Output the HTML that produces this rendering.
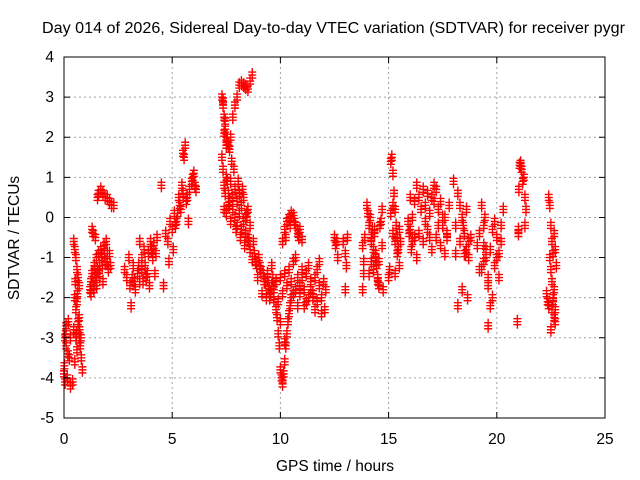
<!DOCTYPE html>
<html><head><meta charset="utf-8"><style>
html,body{margin:0;padding:0;background:#fff}
svg{display:block;font-family:"Liberation Sans",sans-serif}
</style></head><body>
<svg id="chart" width="640" height="480" viewBox="0 0 640 480" xmlns="http://www.w3.org/2000/svg">
<rect width="640" height="480" fill="#fff"/>
<text x="42" y="33" font-size="15.5" textLength="583" lengthAdjust="spacingAndGlyphs" fill="#000">Day 014 of 2026, Sidereal Day-to-day VTEC variation (SDTVAR) for receiver pygr</text>
<g id="grid"></g>
<g id="pts"></g>
<rect x="64" y="57" width="541" height="361" fill="none" stroke="#000" stroke-width="1"/>
<g id="axes"></g>
<text x="335" y="471" font-size="15.5" text-anchor="middle">GPS time / hours</text>
<text x="0" y="0" font-size="15.5" text-anchor="middle" transform="translate(19,238) rotate(-90)">SDTVAR / TECUs</text>
</svg>
<script>
const xTicks=[0,5,10,15,20,25];
const yTicks=[4,3,2,1,0,-1,-2,-3,-4,-5];
const times=[
0,0.05,0.05,0.1,0.1,0.15,0.2,0.25,0.3,0.3,0.02,0.08,0.18,
0.45,0.5,0.55,0.6,0.65,0.7,0.5,0.55,0.45,0.6,0.65,0.7,0.75,0.8,0.85,0.55,0.6,0.7,0.5,0.4,0.62,0.72,0.78,0.52,0.58,
1.2,1.25,1.3,1.35,1.4,1.45,1.5,1.55,1.6,1.65,1.7,1.75,1.8,1.85,1.9,1.95,2.0,2.05,1.3,1.35,1.45,1.55,1.6,1.7,1.8,1.9,2.0,2.1,2.2,2.3,1.25,1.5,1.42,1.62,1.78,1.88,1.98,2.1,2.15,1.38,1.52,
2.8,2.9,3.0,3.05,3.1,3.15,3.2,3.3,3.4,3.5,3.6,3.6,3.7,3.75,3.8,3.9,4.0,4.1,4.15,4.2,4.3,3.5,3.95,3.25,3.45,3.85,4.05,4.25,3.65,
4.7,4.8,4.9,5.0,5.05,5.1,5.2,5.3,5.4,5.45,5.5,5.55,5.6,5.65,5.75,5.8,5.9,6.0,6.05,6.1,4.6,4.85,4.5,5.35,5.5,5.25,5.7,5.95,5.15,
7.3,7.35,7.4,7.45,7.5,7.55,7.6,7.7,7.8,7.9,8.0,8.1,8.2,8.3,8.4,8.5,8.6,8.7,7.4,7.5,7.65,7.35,7.45,
7.3,7.35,7.4,7.5,7.6,7.7,7.8,7.9,8.0,8.1,8.2,8.3,8.4,8.5,8.6,7.4,7.5,7.6,7.7,7.8,7.9,8.0,8.1,8.2,8.3,8.4,8.5,7.45,7.65,7.85,8.05,8.25,8.45,7.55,7.75,7.95,8.15,8.35,8.55,
8.6,8.7,8.8,8.9,9.0,9.1,9.2,9.3,9.4,9.5,9.6,8.75,8.85,8.95,9.05,9.15,9.25,9.35,9.45,9.55,9.65,
9.7,9.8,9.85,9.9,9.95,10.0,10.05,10.1,10.15,10.2,10.25,10.3,10.35,10.4,10.45,9.9,10.0,10.1,10.2,
10.1,10.2,10.3,10.4,10.5,10.6,10.7,10.8,10.9,11.0,10.25,10.45,10.65,10.85,
9.4,9.6,9.8,10.0,10.2,10.4,10.6,10.8,11.0,11.2,11.4,11.6,11.8,12.0,12.1,9.5,9.7,9.9,10.1,10.3,10.5,10.7,10.9,11.1,11.3,11.5,11.7,11.9,12.05,10.5,10.7,10.9,11.1,11.3,11.5,11.7,11.9,10.6,10.8,11.0,11.2,11.4,11.6,11.8,
12.5,12.55,12.6,12.65,12.9,13.0,13.05,13.1,13.0,13.8,13.85,13.85,13.9,13.8,
14.0,14.05,14.1,14.15,14.2,14.25,14.3,14.35,14.4,14.45,14.5,14.55,14.6,14.65,14.7,14.75,14.1,14.2,14.3,14.4,14.5,14.6,14.7,14.2,14.35,14.55,
15.0,15.05,15.1,15.15,15.2,15.25,15.3,15.35,15.4,15.45,15.5,15.55,15.1,15.2,15.3,15.4,15.5,15.2,15.3,
15.9,16.0,16.1,16.2,16.3,16.4,16.5,16.6,16.7,16.8,16.9,17.0,17.1,17.2,17.3,17.4,17.5,17.6,17.7,17.8,16.0,16.2,16.4,16.6,16.8,17.0,17.2,17.4,17.6,16.1,16.3,16.5,16.7,16.9,17.1,17.3,17.5,17.7,15.95,16.05,
18.0,18.1,18.2,18.3,18.4,18.5,18.6,18.7,18.8,18.1,18.3,18.5,18.7,18.45,18.55,18.65,18.2,18.4,18.6,
19.1,19.2,19.3,19.4,19.5,19.6,19.7,19.8,19.9,20.0,20.1,20.2,20.3,19.2,19.4,19.6,19.8,20.0,20.2,19.3,19.5,19.7,19.9,20.1,19.4,19.45,19.6,
20.95,21.0,21.05,21.1,21.15,21.2,21.25,21.3,21.35,21.1,21.2,21.3,21.0,21.02,
22.3,22.35,22.4,22.45,22.5,22.55,22.6,22.65,22.7,22.75,22.45,22.5,22.55,22.6,22.65,22.7,22.6,22.65,22.5,22.7,22.4,22.55
];
const values=[
-3.9,-4.1,-3.0,-2.7,-3.2,-4.0,-2.6,-3.5,-4.2,-3.0,-3.7,-2.9,-3.4,
-0.6,-0.8,-1.0,-1.3,-1.5,-1.7,-2.0,-2.3,-2.8,-2.1,-2.6,-3.0,-3.2,-3.5,-3.8,-3.0,-3.3,-2.5,-3.6,-4.1,-1.9,-2.8,-3.0,-1.6,-2.9,
-1.8,-1.6,-1.4,-1.7,-1.2,-1.5,-1.0,-1.3,-0.9,-1.2,-0.8,-1.0,-1.6,-0.7,-1.1,-0.6,-0.9,-1.3,-0.3,-0.4,-0.5,0.5,0.6,0.7,0.6,0.5,0.5,0.4,0.3,0.3,-1.9,-1.7,-1.3,-1.4,-1.2,-0.9,-1.1,-0.9,-1.2,-1.8,-1.5,
-1.3,-1.5,-1.0,-1.7,-2.2,-1.5,-1.2,-1.8,-1.4,-1.6,-1.3,-1.0,-0.8,-1.2,-1.5,-0.9,-0.6,-1.0,-0.7,-1.4,-0.5,-0.6,-1.7,-1.6,-1.2,-1.4,-0.8,-0.9,-1.6,
-0.4,-0.6,-0.1,-0.3,-0.8,0.1,-0.1,0.5,0.2,0.8,0.6,1.5,1.8,0.4,-0.1,0.7,0.9,1.1,0.8,0.7,-1.7,-1.1,0.8,0.3,1.6,0.1,0.5,1.0,-0.2,
3.0,2.8,2.5,2.2,2.0,1.9,1.8,2.0,2.5,2.8,3.0,3.3,3.35,3.3,3.25,3.2,3.4,3.55,2.1,1.8,1.7,2.9,2.4,
1.5,1.2,0.8,1.0,0.6,0.9,0.5,0.7,0.4,0.6,0.3,0.5,0.0,0.2,-0.2,0.2,0.1,0.3,-0.1,0.2,0.0,-0.2,0.1,-0.3,-0.1,-0.4,-0.5,0.6,0.4,1.2,0.9,0.7,0.1,0.9,1.4,-0.3,-0.5,-0.7,-0.6,
-0.8,-1.05,-0.9,-1.2,-1.0,-1.3,-1.4,-1.6,-1.5,-1.8,-1.7,-0.6,-1.1,-1.5,-1.2,-1.9,-1.6,-2.0,-1.7,-1.9,-1.5,
-2.05,-2.3,-2.5,-2.9,-3.2,-3.8,-4.0,-4.15,-3.9,-3.6,-3.2,-2.9,-2.6,-2.4,-2.2,-2.1,-2.6,-4.05,-3.1,
-0.6,-0.3,-0.1,0.0,0.1,0.05,-0.2,-0.4,-0.3,-0.55,-0.5,-0.2,-0.1,-0.5,
-1.4,-1.2,-1.6,-1.5,-1.4,-1.3,-1.1,-1.5,-1.3,-1.4,-1.6,-1.5,-1.7,-1.6,-1.8,-2.0,-1.8,-2.1,-1.9,-1.7,-2.0,-1.8,-1.9,-1.8,-2.0,-1.9,-2.1,-2.0,-2.3,-1.6,-1.0,-1.7,-2.2,-1.2,-2.0,-1.3,-2.4,-1.9,-2.2,-1.5,-2.1,-1.8,-2.3,-1.1,
-0.5,-0.7,-0.6,-1.0,-0.6,-0.9,-1.2,-0.5,-1.8,-0.7,-1.1,-1.4,-0.5,-1.8,
0.3,0.1,-0.2,0.0,-0.5,-0.3,-0.8,-0.4,-1.0,-1.2,-1.5,-1.7,-0.2,-0.1,0.2,-1.8,-1.4,-0.6,-1.3,-0.9,-1.6,-0.2,-0.7,-1.1,-0.3,-1.1,-1.5,-1.3,
1.4,1.5,1.1,0.6,0.2,-0.2,-0.5,-0.8,-1.2,-0.6,0.1,0.3,-1.4,-0.9,-0.3,-0.4,-0.6,-0.1,0.5,
0.0,0.4,0.8,0.5,0.2,0.7,0.3,0.6,0.1,0.5,0.8,0.7,0.2,0.4,-0.2,0.0,-0.4,0.3,-0.3,-0.5,-0.4,-0.6,-0.3,-0.8,-0.5,-0.7,-0.9,-0.6,-1.0,0.2,-0.1,-0.5,0.4,-0.2,0.0,-0.5,-0.4,-0.8,0.9,-0.9,
0.6,0.3,0.0,-0.4,-0.8,-1.0,-0.5,-0.2,-0.6,-0.9,-0.6,-0.2,-0.9,-2.0,-2.2,-1.8,0.2,-0.7,-1.3,
0.3,-0.2,-1.0,-1.5,-0.8,-0.3,-1.2,-0.5,-0.9,-0.2,0.2,-0.4,-0.7,-1.7,-2.0,-1.0,-0.6,-1.3,-0.8,-2.2,-0.1,-1.5,-1.1,0.0,-2.7,-2.6,-0.3,
1.3,1.35,1.2,0.9,1.0,0.5,0.2,1.3,0.9,-0.2,-0.4,0.7,-1.9,-2.1,
0.5,0.3,-0.2,-0.6,-0.9,-0.4,-0.8,-1.2,-1.0,-1.3,-1.6,-2.0,-1.8,-2.3,-2.1,-2.5,-2.8,-2.6,-2.2,-2.3,0.0,-1.5
];
const NS='http://www.w3.org/2000/svg';
const X0=64,X1=605,Y0=418,Y1=57;
function xs(t){return X0+(t-0)/(25-0)*(X1-X0);}
function ys(v){return Y0-(v-(-5))/(4-(-5))*(Y0-Y1);}
const grid=document.getElementById('grid'),axes=document.getElementById('axes'),pts=document.getElementById('pts');
xTicks.forEach(t=>{
 const x=xs(t);
 if(t>0&&t<25){const l=document.createElementNS(NS,'line');
 l.setAttribute('x1',x);l.setAttribute('x2',x);l.setAttribute('y1',Y1);l.setAttribute('y2',Y0);
 l.setAttribute('stroke','#a0a0a0');l.setAttribute('stroke-dasharray','2,3');
 
 
 grid.appendChild(l);}
 const tk=document.createElementNS(NS,'path');
 tk.setAttribute('d',`M${x},${Y0}v-6M${x},${Y1}v6`);tk.setAttribute('stroke','#000');
 
 
 axes.appendChild(tk);
 const tx=document.createElementNS(NS,'text');
 tx.setAttribute('x',x);tx.setAttribute('y',444);tx.setAttribute('font-size','15.5');tx.setAttribute('text-anchor','middle');
 tx.textContent=t;
 
 
 axes.appendChild(tx);
});
yTicks.forEach(v=>{
 const y=ys(v);
 if(v>-5&&v<4){const l=document.createElementNS(NS,'line');
 l.setAttribute('x1',X0);l.setAttribute('x2',X1);l.setAttribute('y1',y);l.setAttribute('y2',y);
 l.setAttribute('stroke','#a0a0a0');l.setAttribute('stroke-dasharray','2,3');
 
 
 grid.appendChild(l);}
 const tk=document.createElementNS(NS,'path');
 tk.setAttribute('d',`M${X0},${y}h6M${X1},${y}h-6`);tk.setAttribute('stroke','#000');
 
 
 axes.appendChild(tk);
 const tx=document.createElementNS(NS,'text');
 tx.setAttribute('x',54);tx.setAttribute('y',y+5);tx.setAttribute('font-size','15.5');tx.setAttribute('text-anchor','end');
 tx.textContent=v;
 
 
 axes.appendChild(tx);
});
let d='';
for(let i=0;i<times.length&&i<values.length;i++){
 const x=xs(times[i]),y=ys(values[i]);
 for(let k=-1;k<=1;k++){const yy=y+k*3;d+=`M${x-4},${yy}h8M${x},${yy-4}v8`;}
}
const p=document.createElementNS(NS,'path');
p.setAttribute('d',d);p.setAttribute('stroke','#ff0000');p.setAttribute('stroke-width','1.4');p.setAttribute('fill','none');


pts.appendChild(p);
</script>
</body></html>
